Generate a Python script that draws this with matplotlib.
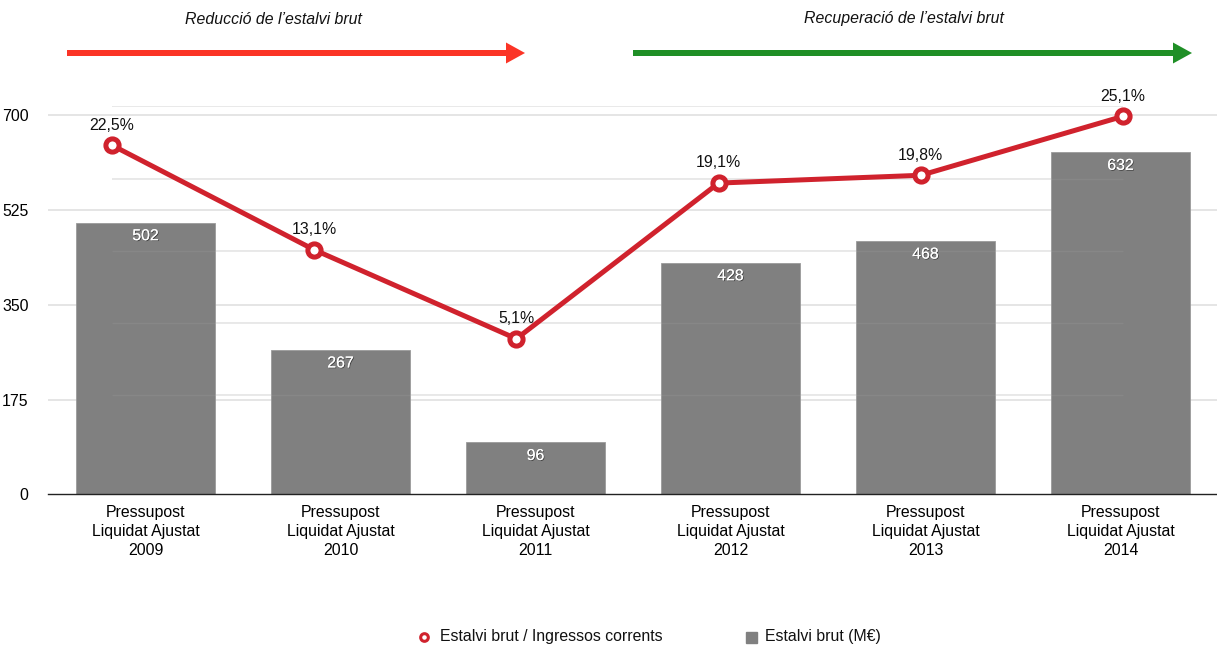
import matplotlib
matplotlib.use("Agg")
import matplotlib.pyplot as plt
import matplotlib.patheffects as pe
from matplotlib.patches import FancyArrow, Rectangle
from matplotlib.lines import Line2D

plt.rcParams['font.family'] = ['Liberation Sans', 'DejaVu Sans']

# ---- data ----
categories = ["Pressupost\nLiquidat Ajustat\n2009", "Pressupost\nLiquidat Ajustat\n2010",
              "Pressupost\nLiquidat Ajustat\n2011", "Pressupost\nLiquidat Ajustat\n2012",
              "Pressupost\nLiquidat Ajustat\n2013", "Pressupost\nLiquidat Ajustat\n2014"]
estalvi_brut = [502, 267, 96, 428, 468, 632]
ratio_pct = [22.5, 13.1, 5.1, 19.1, 19.8, 25.1]
ratio_labels = ["22,5%", "13,1%", "5,1%", "19,1%", "19,8%", "25,1%"]
y_ticks = [0, 175, 350, 525, 700]
pct_grid = [0, 6.5, 13, 19.5, 26]
legend_labels = ["Estalvi brut / Ingressos corrents", "Estalvi brut (M€)"]
header_labels = ["Reducció de l’estalvi brut", "Recuperació de l’estalvi brut"]

W, H = 1217, 650
fig = plt.figure(figsize=(W / 100, H / 100), dpi=100)

FS = 11.4
RED_LINE = '#d0222d'
BAR = '#808080'

left_px, right_px = 48, 1218
top_px, bot_px = 106, 494.3
rect = [left_px / W, 1 - bot_px / H, (right_px - left_px) / W, (bot_px - top_px) / H]

ax = fig.add_axes(rect)
x = list(range(len(categories)))
ax.bar(x, estalvi_brut, width=0.713, color=BAR, edgecolor='#9a9a9a', linewidth=0.6, zorder=2)
ax.set_xlim(-0.5, 5.5)
ax.set_ylim(0, 717.2)
ax.set_yticks(y_ticks)
ax.set_yticklabels([str(v) for v in y_ticks], fontsize=FS)
ax.set_xticks(x)
ax.set_xticklabels(categories, fontsize=FS, linespacing=1.33)
ax.tick_params(axis='x', length=0, pad=8)
ax.tick_params(axis='y', length=0, pad=14)
for s in ['top', 'right', 'left']:
    ax.spines[s].set_visible(False)
ax.spines['bottom'].set_color('#222222')
ax.spines['bottom'].set_linewidth(1.0)
ax.spines['bottom'].set_zorder(5)
for v in y_ticks[1:]:
    ax.axhline(v, color='#e3e3e3', lw=1.3, zorder=0)

for xi, v in zip(x, estalvi_brut):
    ax.annotate(str(v), (xi, v), xytext=(0, -9.5), textcoords='offset points',
                ha='center', va='center', fontsize=FS, color='white', zorder=6,
                path_effects=[pe.withSimplePatchShadow(offset=(0.6, -0.6), shadow_rgbFace='#333333', alpha=0.8),
                              pe.Normal()])

# line axes
ax2 = fig.add_axes(rect, frameon=False)
ax2.set_xlim(-0.3165, 5.470)
ax2.set_ylim(-8.885, 26.03)
ax2.set_xticks([])
ax2.set_yticks([])

# secondary gridlines: behind bars in ax (converted through ax2 scale), faint overlay on top
to_disp = ax2.transData
inv = ax.transData.inverted()
for p in pct_grid:
    xa, ya = inv.transform(to_disp.transform((0, p)))
    xb, _ = inv.transform(to_disp.transform((5, p)))
    ax.hlines(ya, xa, xb, color='#e6e6e6', lw=1.3, zorder=0)
ax2.hlines(pct_grid, 0, 5, color='white', lw=1.0, alpha=0.06, zorder=1)

ax2.plot(x, ratio_pct, color=RED_LINE, lw=3.6, marker='o', ms=9.5, mfc='white',
         mec=RED_LINE, mew=3.6, zorder=3, solid_capstyle='round')
for xi, p, lab in zip(x, ratio_pct, ratio_labels):
    ax2.annotate(lab, (xi, p), xytext=(0, 14.5), textcoords='offset points',
                 ha='center', va='center', fontsize=FS, color='#111111')

# header arrows
t = fig.dpi_scale_trans
def arrow(x0, x1, y, color):
    fig.patches.append(FancyArrow(x0 / 100, (H - y) / 100, (x1 - x0) / 100, 0,
                                  width=0.06, head_width=0.21, head_length=0.19,
                                  length_includes_head=True, color=color, lw=0,
                                  transform=t, figure=fig))
arrow(67, 525, 53, '#fb3426')
arrow(633, 1192, 53, '#1f8f26')
fig.text(273 / W, 1 - 19 / H, header_labels[0], ha='center', va='center',
         fontsize=FS, style='italic', color='#111111')
fig.text(904 / W, 1 - 19 / H, header_labels[1], ha='center', va='center',
         fontsize=FS, style='italic', color='#111111')

# legend
ly = 1 - 637 / H
fig.add_artist(Line2D([424 / W], [ly], transform=fig.transFigure, marker='o', ms=5.5,
                      mfc='white', mec=RED_LINE, mew=2.2, ls='none'))
fig.text(440 / W, ly, legend_labels[0], ha='left', va='center', fontsize=FS, color='#111111')
fig.patches.append(Rectangle((746 / W, ly - 5.5 / H), 11 / W, 11 / H, transform=fig.transFigure,
                             color=BAR, figure=fig))
fig.text(765 / W, ly, legend_labels[1], ha='left', va='center', fontsize=FS, color='#111111')

fig.savefig('out.png', dpi=100)
